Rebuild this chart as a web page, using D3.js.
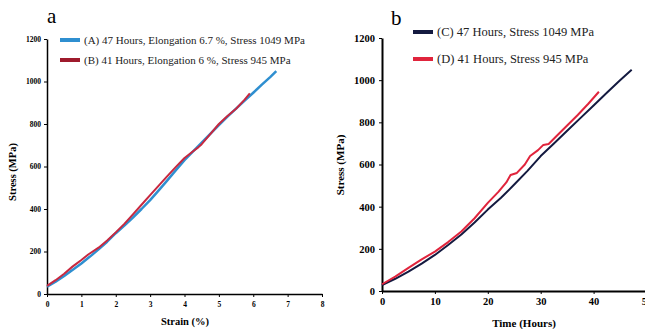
<!DOCTYPE html>
<html>
<head>
<meta charset="utf-8">
<script src="https://cdn.jsdelivr.net/npm/d3@7"></script>
<style>
  body { margin: 0; background: #fff; }
  svg text { font-family: "Liberation Serif", "Times New Roman", serif; }
  .tick text { font-weight: bold; }
  .domain, .tick line { stroke: #000; }
</style>
</head>
<body>
<script>
// panel a: stress vs strain
var strainA = [0, 0.25, 0.5, 0.75, 1, 1.25, 1.5, 1.75, 2, 2.25, 2.5, 2.75, 3, 3.25, 3.5, 3.75, 4, 4.25, 4.5, 4.75, 5, 5.25, 5.5, 5.75, 6, 6.25, 6.5, 6.67];
var stressA = [34, 58, 85, 114, 144, 176, 210, 246, 286, 322, 360, 400, 442, 488, 535, 583, 630, 671, 712, 754, 795, 835, 872, 910, 947, 985, 1022, 1049];
var strainB = [0, 0.25, 0.5, 0.75, 0.85, 1, 1.2, 1.5, 1.75, 2, 2.25, 2.5, 2.75, 3, 3.25, 3.5, 3.75, 4, 4.25, 4.4, 4.5, 4.75, 5, 5.25, 5.5, 5.75, 5.9];
var stressB = [38, 65, 95, 130, 142, 160, 186, 218, 252, 290, 330, 375, 420, 465, 510, 555, 598, 640, 672, 690, 705, 752, 800, 838, 872, 915, 944];

// panel b: stress vs time
var timeC = [0, 2.5, 5, 7.5, 10, 12.5, 15, 17.5, 20, 22.5, 25, 27.5, 30, 32.5, 35, 37.5, 40, 42.5, 45, 47.2];
var stressC = [28, 58, 92, 130, 171, 218, 268, 325, 386, 442, 505, 570, 640, 700, 760, 820, 880, 940, 1000, 1049];
var timeD = [0, 2.5, 5, 7.5, 10, 12.5, 15, 17.5, 20, 22, 23.5, 24.3, 25.5, 27, 28, 29.5, 30.5, 31.5, 33, 35, 37, 39, 41];
var stressD = [32, 68, 110, 150, 187, 232, 282, 345, 418, 470, 515, 550, 560, 600, 640, 668, 693, 697, 735, 785, 835, 888, 945];

var stressTicks = [0, 200, 400, 600, 800, 1000, 1200];
var strainTicks = [0, 1, 2, 3, 4, 5, 6, 7, 8];
var timeTicks = [0, 10, 20, 30, 40, 50];

var legendA = ["(A) 47 Hours, Elongation 6.7 %, Stress 1049 MPa", "(B) 41 Hours, Elongation 6 %, Stress 945 MPa"];
var legendB = ["(C) 47 Hours, Stress 1049 MPa", "(D) 41 Hours, Stress 945 MPa"];

var svg = d3.select("body").append("svg")
    .attr("width", 645)
    .attr("height", 329);

function zip(xs, ys) { return xs.map((x, i) => [x, ys[i]]); }

function panel(opt) {
    var g = svg.append("g");
    var x = d3.scaleLinear().domain(opt.xDomain).range(opt.xRange);
    var y = d3.scaleLinear().domain([0, 1200]).range(opt.yRange);

    g.append("g")
        .attr("transform", "translate(0," + opt.yRange[0] + ")")
        .call(d3.axisBottom(x).tickValues(opt.xTicks).tickFormat(d3.format("d")).tickSize(3).tickSizeOuter(0))
        .attr("font-family", null)
        .call(a => a.select(".domain").attr("stroke-width", opt.axisW))
        .call(a => a.selectAll(".tick text").attr("font-size", opt.tickFs).attr("dy", opt.xdy));

    g.append("g")
        .attr("transform", "translate(" + opt.xRange[0] + ",0)")
        .call(d3.axisLeft(y).tickValues(stressTicks).tickFormat(d3.format("d")).tickSize(3).tickSizeOuter(0))
        .attr("font-family", null)
        .call(a => a.select(".domain").attr("stroke-width", opt.axisW))
        .call(a => a.selectAll(".tick text").attr("font-size", opt.tickFs).attr("x", opt.ytx));

    var line = d3.line().x(d => x(d[0])).y(d => y(d[1]));
    opt.series.forEach(s => {
        g.append("path")
            .datum(s.data)
            .attr("fill", "none")
            .attr("stroke", s.color)
            .attr("stroke-width", s.width)
            .attr("stroke-linejoin", "round")
            .attr("d", line);
    });

    // legend
    opt.series.forEach((s, i) => {
        var ly = opt.legY + i * opt.legGap;
        g.append("line")
            .attr("x1", opt.legX).attr("x2", opt.legX + 20)
            .attr("y1", ly).attr("y2", ly)
            .attr("stroke", s.legColor || s.color)
            .attr("stroke-width", 4);
        g.append("text")
            .attr("x", opt.legX + 24).attr("y", ly + 4)
            .attr("font-size", opt.legFs)
            .attr("fill", "#222")
            .text(s.label);
    });

    // panel letter
    g.append("text")
        .attr("x", opt.letter[0]).attr("y", opt.letter[1])
        .attr("font-size", 21)
        .text(opt.letter[2]);

    // axis titles
    g.append("text")
        .attr("x", opt.xTitle[0]).attr("y", opt.xTitle[1])
        .attr("text-anchor", "middle")
        .attr("font-weight", "bold")
        .attr("font-size", opt.titleFs)
        .text(opt.xTitle[2]);
    g.append("text")
        .attr("transform", "translate(" + opt.yTitle[0] + "," + opt.yTitle[1] + ") rotate(-90)")
        .attr("text-anchor", "middle")
        .attr("font-weight", "bold")
        .attr("font-size", opt.titleFs)
        .text("Stress (MPa)");
}

panel({
    xDomain: [0, 8], xRange: [47, 322], yRange: [294, 39],
    xTicks: strainTicks, tickFs: 7.5, xdy: "0.9em", ytx: -6, axisW: 1.5,
    series: [
        { data: zip(strainA, stressA), color: "#2f8fd0", width: 2.5, label: legendA[0] },
        { data: zip(strainB, stressB), color: "#c8283f", legColor: "#9e1a2c", width: 2, label: legendA[1] }
    ],
    legX: 60, legY: 40, legGap: 20, legFs: 11,
    letter: [47, 23, "a"],
    xTitle: [185, 325, "Strain (%)"], yTitle: [16, 172], titleFs: 10.5
});

panel({
    xDomain: [0, 50], xRange: [382, 646.5], yRange: [291, 38],
    xTicks: timeTicks, tickFs: 10.5, xdy: "0.75em", ytx: -7, axisW: 2,
    series: [
        { data: zip(timeC, stressC), color: "#141a40", width: 2, label: legendB[0] },
        { data: zip(timeD, stressD), color: "#e0243c", width: 2, label: legendB[1] }
    ],
    legX: 413, legY: 32, legGap: 27, legFs: 12.5,
    letter: [391, 25, "b"],
    xTitle: [524, 327, "Time (Hours)"], yTitle: [344, 165], titleFs: 11
});
</script>
</body>
</html>
